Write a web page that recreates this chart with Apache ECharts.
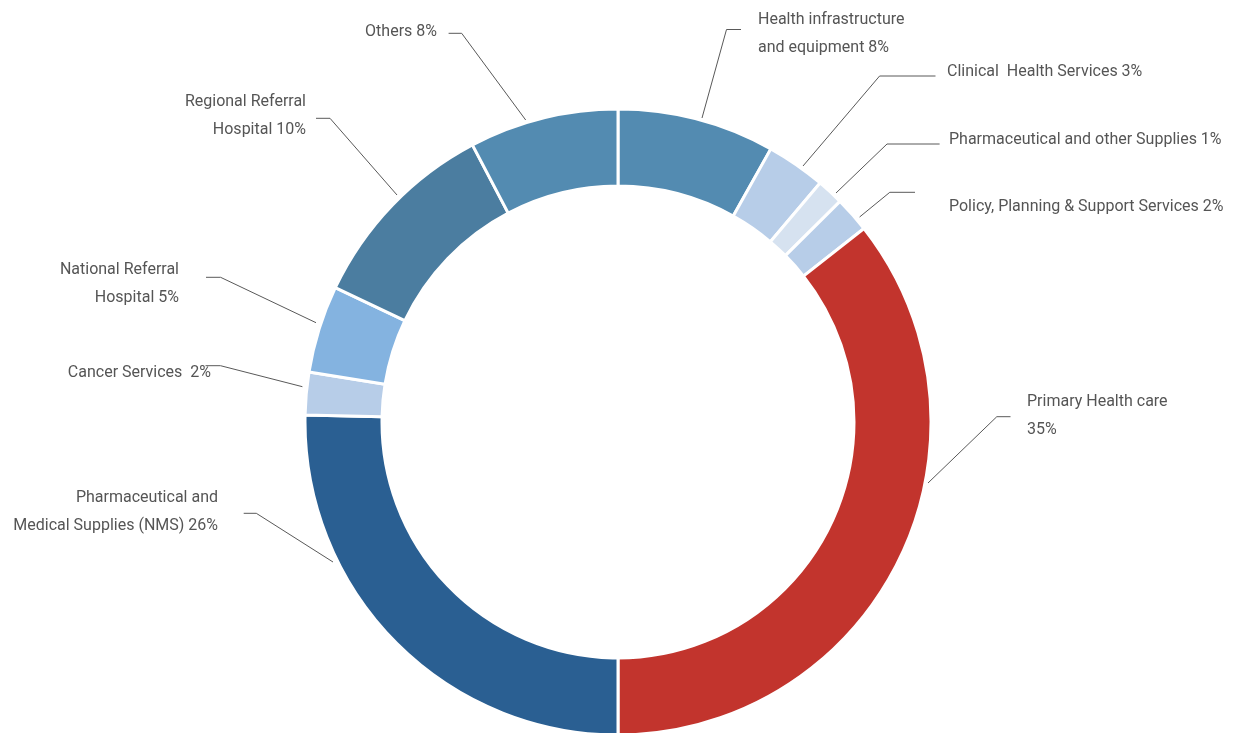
<!DOCTYPE html>
<html>
<head>
<meta charset="utf-8">
<title>Health budget shares</title>
<script src="https://cdn.jsdelivr.net/npm/echarts@6/dist/echarts.min.js"></script>
<style>
  html, body { margin: 0; padding: 0; background: #fff; }
  #chart { width: 1236px; height: 733px; }
</style>
</head>
<body>
<div id="chart"></div>
<script>
// slices, clockwise from 12 o'clock
const categories = [
  "Health infrastructure and equipment",
  "Clinical  Health Services",
  "Pharmaceutical and other Supplies",
  "Policy, Planning & Support Services",
  "Primary Health care",
  "Pharmaceutical and Medical Supplies (NMS)",
  "Cancer Services",
  "National Referral Hospital",
  "Regional Referral Hospital",
  "Others"
];
// shares (percent)
const shares = [8.12, 3.05, 1.38, 1.84, 35.61, 25.36, 2.19, 4.51, 10.24, 7.7];
// label text as printed on the chart
const labelText = [
  "Health infrastructure\nand equipment 8%",
  "Clinical  Health Services 3%",
  "Pharmaceutical and other Supplies 1%",
  "Policy, Planning & Support Services 2%",
  "Primary Health care\n35%",
  "Pharmaceutical and\nMedical Supplies (NMS) 26%",
  "Cancer Services  2%",
  "National Referral\nHospital 5%",
  "Regional Referral\nHospital 10%",
  "Others 8%"
];
const sliceColors = [
  "#538bb1", "#b7cde8", "#d6e2f0", "#b7cde8", "#c2342d",
  "#2a5f92", "#b7cde8", "#84b3e0", "#4b7da0", "#538bb1"
];

// where each label sits and how its leader line runs
const labelSpots = [
  { x: 758, y: 34, align: "left", line: [[702, 118], [726.5, 29.5], [741, 29.5]] },
  { x: 947, y: 72, align: "left", line: [[803, 166], [879.6, 76], [935.5, 76]] },
  { x: 949, y: 140, align: "left", line: [[836, 193], [887, 144], [939.6, 144]] },
  { x: 949, y: 207, align: "left", line: [[859.6, 217], [889.8, 192.3], [915, 192.3]] },
  { x: 1027, y: 416, align: "left", line: [[928, 483], [996.8, 416.7], [1010.5, 416.7]] },
  { x: 218, y: 512, align: "right", line: [[333, 562], [256.3, 513.3], [243.7, 513.3]] },
  { x: 211, y: 373, align: "right", line: [[302.4, 386.7], [220.5, 365.7], [205.5, 365.7]] },
  { x: 179, y: 284, align: "right", line: [[316, 322.7], [220.6, 277.3], [206, 277.3]] },
  { x: 306, y: 115.5, align: "right", line: [[397, 195], [330, 118.3], [316, 118.3]] },
  { x: 437, y: 32, align: "right", line: [[525.7, 120], [461.7, 33.3], [448.6, 33.3]] }
];

const chart = echarts.init(document.getElementById("chart"), null, { renderer: "canvas" });

chart.setOption({
  animation: false,
  backgroundColor: "#ffffff",
  series: [
    {
      type: "pie",
      center: [618, 422],
      radius: [236, 313],
      startAngle: 90,
      clockwise: true,
      avoidLabelOverlap: false,
      silent: true,
      data: categories.map((name, i) => ({
        name: name,
        value: shares[i],
        itemStyle: { color: sliceColors[i] },
        label: { formatter: labelText[i] }
      })),
      itemStyle: { borderColor: "#ffffff", borderWidth: 3 },
      label: {
        show: true,
        position: "outside",
        color: "#555555",
        fontFamily: "Roboto, sans-serif",
        fontSize: 16,
        lineHeight: 28
      },
      labelLine: {
        show: true,
        length: 10,
        length2: 10,
        lineStyle: { color: "#595959", width: 1 }
      },
      labelLayout: function (params) {
        const spot = labelSpots[params.dataIndex];
        return {
          x: spot.x,
          y: spot.y,
          align: spot.align,
          verticalAlign: "middle",
          labelLinePoints: spot.line
        };
      },
      emphasis: { disabled: true }
    }
  ]
});
</script>
</body>
</html>
